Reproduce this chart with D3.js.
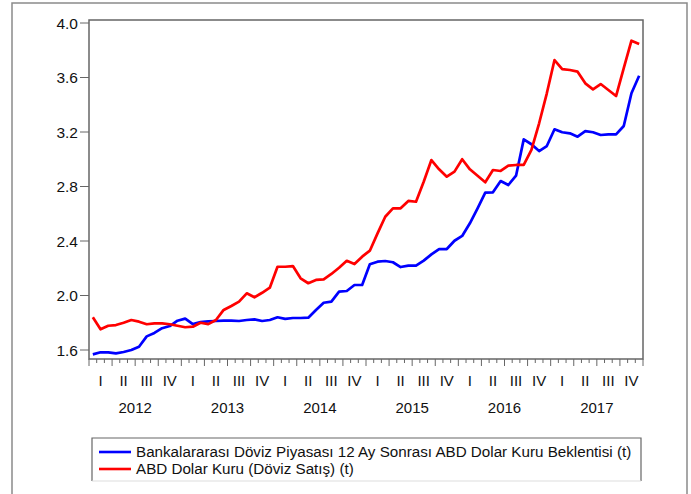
<!DOCTYPE html>
<html>
<head>
<meta charset="utf-8">
<script src="https://cdn.jsdelivr.net/npm/d3@7"></script>
<style>
  html, body { margin: 0; padding: 0; background: #fff; }
  svg { display: block; font-family: "Liberation Sans", Arial, sans-serif; }
</style>
</head>
<body>
<svg id="chart" width="691" height="494"></svg>
<script>
// ---- data (monthly, 2012M01 .. 2017M12) ----
const years = [2012, 2013, 2014, 2015, 2016, 2017];
const quarterLabels = ["I", "II", "III", "IV"];
const yTicks = [1.6, 2.0, 2.4, 2.8, 3.2, 3.6, 4.0];

const seriesNames = [
  "Bankalararası Döviz Piyasası 12 Ay Sonrası ABD Dolar Kuru Beklentisi (t)",
  "ABD Dolar Kuru (Döviz Satış) (t)"
];

const expectation = [
  1.568, 1.583, 1.583, 1.575, 1.585, 1.600, 1.624, 1.700, 1.725, 1.760, 1.776, 1.815,
  1.830, 1.790, 1.805, 1.810, 1.813, 1.815, 1.815, 1.813, 1.820, 1.825, 1.813, 1.820,
  1.840, 1.828, 1.835, 1.835, 1.837, 1.894, 1.947, 1.955, 2.028, 2.033, 2.077, 2.077,
  2.229, 2.248, 2.253, 2.244, 2.209, 2.219, 2.219, 2.256, 2.302, 2.341, 2.341, 2.402,
  2.437, 2.530, 2.640, 2.755, 2.757, 2.840, 2.811, 2.879, 3.146, 3.110, 3.060, 3.097,
  3.220, 3.198, 3.190, 3.166, 3.207, 3.198, 3.178, 3.183, 3.183, 3.244, 3.484, 3.613
];

const usdRate = [
  1.840, 1.752, 1.778, 1.783, 1.800, 1.820, 1.808, 1.789, 1.796, 1.796, 1.789, 1.778,
  1.767, 1.771, 1.800, 1.790, 1.820, 1.894, 1.923, 1.955, 2.016, 1.987, 2.020, 2.057,
  2.211, 2.211, 2.216, 2.126, 2.090, 2.114, 2.119, 2.158, 2.204, 2.255, 2.231, 2.285,
  2.329, 2.456, 2.578, 2.640, 2.640, 2.694, 2.688, 2.835, 2.994, 2.926, 2.872, 2.909,
  3.000, 2.926, 2.879, 2.831, 2.921, 2.914, 2.953, 2.958, 2.958, 3.068, 3.264, 3.484,
  3.728, 3.662, 3.655, 3.643, 3.557, 3.513, 3.552, 3.508, 3.464, 3.668, 3.870, 3.846
];

const colors = ["#0000ff", "#ff0000"];

// ---- layout ----
const svg = d3.select("#chart");
const plot = { left: 89, right: 643, top: 20, bottom: 359 };
const nMonths = expectation.length;

const x = d3.scaleLinear().domain([0, nMonths]).range([plot.left, plot.right]);
const y = d3.scaleLinear().domain([1.6, 4.0]).range([350, 23]);

// outer frame
svg.append("rect")
  .attr("x", 12).attr("y", 3).attr("width", 675).attr("height", 520)
  .attr("fill", "none").attr("stroke", "#8a8a8a").attr("stroke-width", 1.5);

// plot frame
svg.append("rect")
  .attr("x", plot.left).attr("y", plot.top)
  .attr("width", plot.right - plot.left).attr("height", plot.bottom - plot.top)
  .attr("fill", "none").attr("stroke", "#666").attr("stroke-width", 1.5);

// y axis ticks + labels
const yAxis = svg.append("g");
yTicks.forEach(t => {
  yAxis.append("line")
    .attr("x1", plot.left - 9).attr("x2", plot.left)
    .attr("y1", y(t)).attr("y2", y(t))
    .attr("stroke", "#666").attr("stroke-width", 1);
  yAxis.append("text")
    .attr("x", plot.left - 11).attr("y", y(t))
    .attr("dy", "0.36em")
    .attr("text-anchor", "end")
    .attr("font-size", 15.5).attr("fill", "#111")
    .text(t.toFixed(1));
});

// x axis ticks (months), longer at quarter boundaries
const xAxis = svg.append("g");
d3.range(0, nMonths + 1).forEach(i => {
  const len = (i % 3 === 0) ? 7 : 4;
  xAxis.append("line")
    .attr("x1", x(i)).attr("x2", x(i))
    .attr("y1", plot.bottom).attr("y2", plot.bottom + len)
    .attr("stroke", "#666").attr("stroke-width", 1);
});

// quarter + year labels
years.forEach((yr, yi) => {
  quarterLabels.forEach((q, qi) => {
    const m = yi * 12 + qi * 3 + 1.5;
    xAxis.append("text")
      .attr("x", x(m)).attr("y", 386)
      .attr("text-anchor", "middle")
      .attr("font-size", 15).attr("fill", "#111")
      .text(q);
  });
  xAxis.append("text")
    .attr("x", x(yi * 12 + 6)).attr("y", 413)
    .attr("text-anchor", "middle")
    .attr("font-size", 15).attr("fill", "#111")
    .text(yr);
});

// lines
const line = d3.line()
  .x((d, i) => x(i + 0.5))
  .y(d => y(d));

[expectation, usdRate].forEach((s, k) => {
  svg.append("path")
    .datum(s)
    .attr("d", line)
    .attr("fill", "none")
    .attr("stroke", colors[k])
    .attr("stroke-width", 2.7)
    .attr("stroke-linejoin", "round");
});

// legend
const lg = { x: 92, y: 438, w: 549, h: 43 };
const legend = svg.append("g");
legend.append("path")
  .attr("d", `M${lg.x},${lg.y + lg.h} V${lg.y} H${lg.x + lg.w} V${lg.y + lg.h}`)
  .attr("fill", "none").attr("stroke", "#666").attr("stroke-width", 1.2);
legend.append("line")
  .attr("x1", lg.x).attr("x2", lg.x + lg.w)
  .attr("y1", lg.y + lg.h).attr("y2", lg.y + lg.h)
  .attr("stroke", "#ddd").attr("stroke-width", 1.2);

seriesNames.forEach((name, k) => {
  const cy = 452 + k * 17;
  legend.append("line")
    .attr("x1", 99).attr("x2", 131)
    .attr("y1", cy).attr("y2", cy)
    .attr("stroke", colors[k]).attr("stroke-width", 2.6);
  legend.append("text")
    .attr("x", 136).attr("y", cy)
    .attr("dy", "0.36em")
    .attr("font-size", 15.2).attr("fill", "#111")
    .text(name);
});
</script>
</body>
</html>
